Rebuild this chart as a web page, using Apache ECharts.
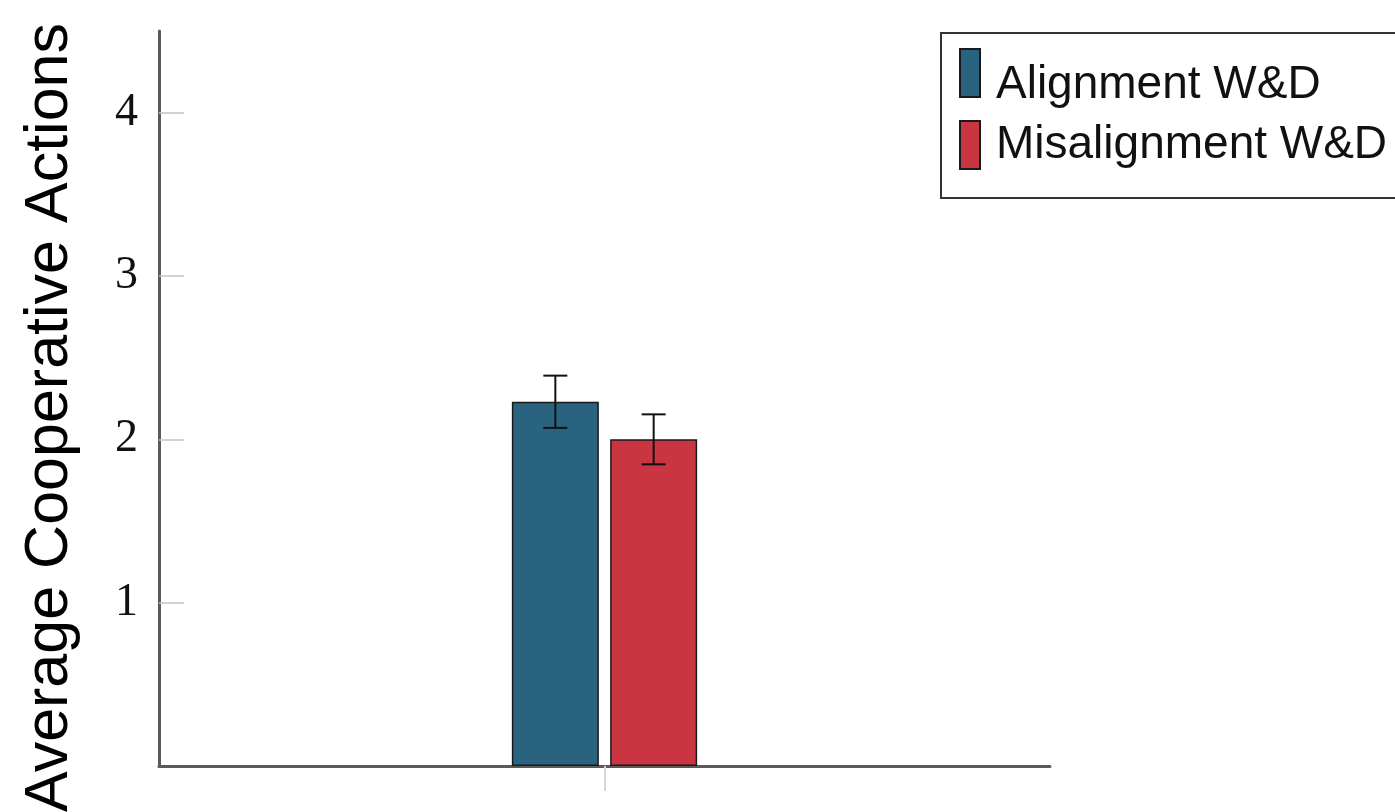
<!DOCTYPE html>
<html>
<head>
<meta charset="utf-8">
<script src="https://cdn.jsdelivr.net/npm/echarts@6/dist/echarts.min.js"></script>
<style>
  html, body { margin: 0; padding: 0; background: #ffffff; }
  #chart { width: 1395px; height: 812px; }
</style>
</head>
<body>
<div id="chart"></div>
<script>
// Data
const categories = ['W&D'];
const seriesNames = ['Alignment W&D', 'Misalignment W&D'];
const alignmentMeans = [2.23];
const alignmentErrors = [0.16];
const misalignmentMeans = [2.0];
const misalignmentErrors = [0.153];
const yTickValues = [1, 2, 3, 4];

// Styling
const colors = ['#2a6380', '#c93641'];
const barWidth = 87;
const barGapRatio = 0.13;
const capHalf = 12;
const legendFont = 'Liberation Sans, Arial, sans-serif';

const chart = echarts.init(document.getElementById('chart'));

// Draw error whiskers on top of a bar series, shifted to that bar's slot
function errorSeries(means, errors, slot) {
  const data = means.map((m, i) => [i, m - errors[i], m + errors[i]]);
  return {
    type: 'custom',
    z: 10,
    silent: true,
    data: data,
    renderItem: function (params, api) {
      const cat = api.value(0);
      const lo = api.coord([cat, api.value(1)]);
      const hi = api.coord([cat, api.value(2)]);
      const shift = slot * (barWidth + barWidth * barGapRatio) / 2;
      const x = lo[0] + shift;
      const style = { stroke: '#111', lineWidth: 2 };
      return {
        type: 'group',
        children: [
          { type: 'line', shape: { x1: x, y1: lo[1], x2: x, y2: hi[1] }, style: style },
          { type: 'line', shape: { x1: x - capHalf, y1: lo[1], x2: x + capHalf, y2: lo[1] }, style: style },
          { type: 'line', shape: { x1: x - capHalf, y1: hi[1], x2: x + capHalf, y2: hi[1] }, style: style }
        ]
      };
    }
  };
}

const legendTextBase = { fontFamily: legendFont, fontSize: 46, color: '#111111' };

const option = {
  backgroundColor: '#ffffff',
  animation: false,
  grid: { left: 159, right: 345, top: 31, bottom: 46, containLabel: false },
  legend: {
    data: seriesNames,
    icon: 'rect',
    orient: 'vertical',
    left: 941,
    top: 33,
    padding: [15, 80, 28, 18],
    itemWidth: 20,
    itemHeight: 48,
    itemGap: 12,
    borderColor: '#333333',
    borderWidth: 2,
    backgroundColor: '#ffffff',
    selectedMode: false,
    formatter: function (name) {
      return (name === seriesNames[0] ? '{first|' : '{second|') + name + '}';
    },
    textStyle: Object.assign({}, legendTextBase, {
      padding: [0, 0, 0, 11],
      rich: {
        first: Object.assign({}, legendTextBase, { padding: [24, 0, 0, 0] }),
        second: Object.assign({}, legendTextBase)
      }
    })
  },
  xAxis: {
    type: 'category',
    data: categories,
    axisLine: { show: true, lineStyle: { color: '#5a5a5a', width: 3 } },
    axisTick: { show: true, alignWithLabel: true, length: 25, lineStyle: { color: '#d6d6d6', width: 2 } },
    axisLabel: { show: false },
    splitLine: { show: false }
  },
  yAxis: {
    type: 'value',
    min: 0,
    max: 4.5,
    interval: 1,
    axisLine: { show: true, lineStyle: { color: '#5a5a5a', width: 3 } },
    axisTick: {
      show: true,
      inside: true,
      length: 25,
      customValues: yTickValues,
      lineStyle: { color: '#c4c4c4', width: 1.5 }
    },
    axisLabel: {
      customValues: yTickValues,
      margin: 21,
      fontFamily: 'Liberation Serif, Times New Roman, serif',
      fontSize: 46,
      color: '#111111'
    },
    splitLine: { show: false }
  },
  graphic: [{
    type: 'text',
    x: 50,
    y: 23,
    rotation: Math.PI / 2,
    style: {
      text: 'Average Cooperative Actions',
      font: '61px "Liberation Sans", Arial, sans-serif',
      fill: '#000000',
      textAlign: 'right',
      textVerticalAlign: 'middle'
    }
  }],
  series: [
    {
      name: seriesNames[0],
      type: 'bar',
      data: alignmentMeans,
      barWidth: barWidth,
      barGap: (barGapRatio * 100) + '%',
      itemStyle: { color: colors[0], borderColor: '#1a1a1a', borderWidth: 1.5 }
    },
    {
      name: seriesNames[1],
      type: 'bar',
      data: misalignmentMeans,
      barWidth: barWidth,
      barGap: (barGapRatio * 100) + '%',
      itemStyle: { color: colors[1], borderColor: '#1a1a1a', borderWidth: 1.5 }
    },
    errorSeries(alignmentMeans, alignmentErrors, -1),
    errorSeries(misalignmentMeans, misalignmentErrors, 1)
  ]
};

chart.setOption(option);
</script>
</body>
</html>
